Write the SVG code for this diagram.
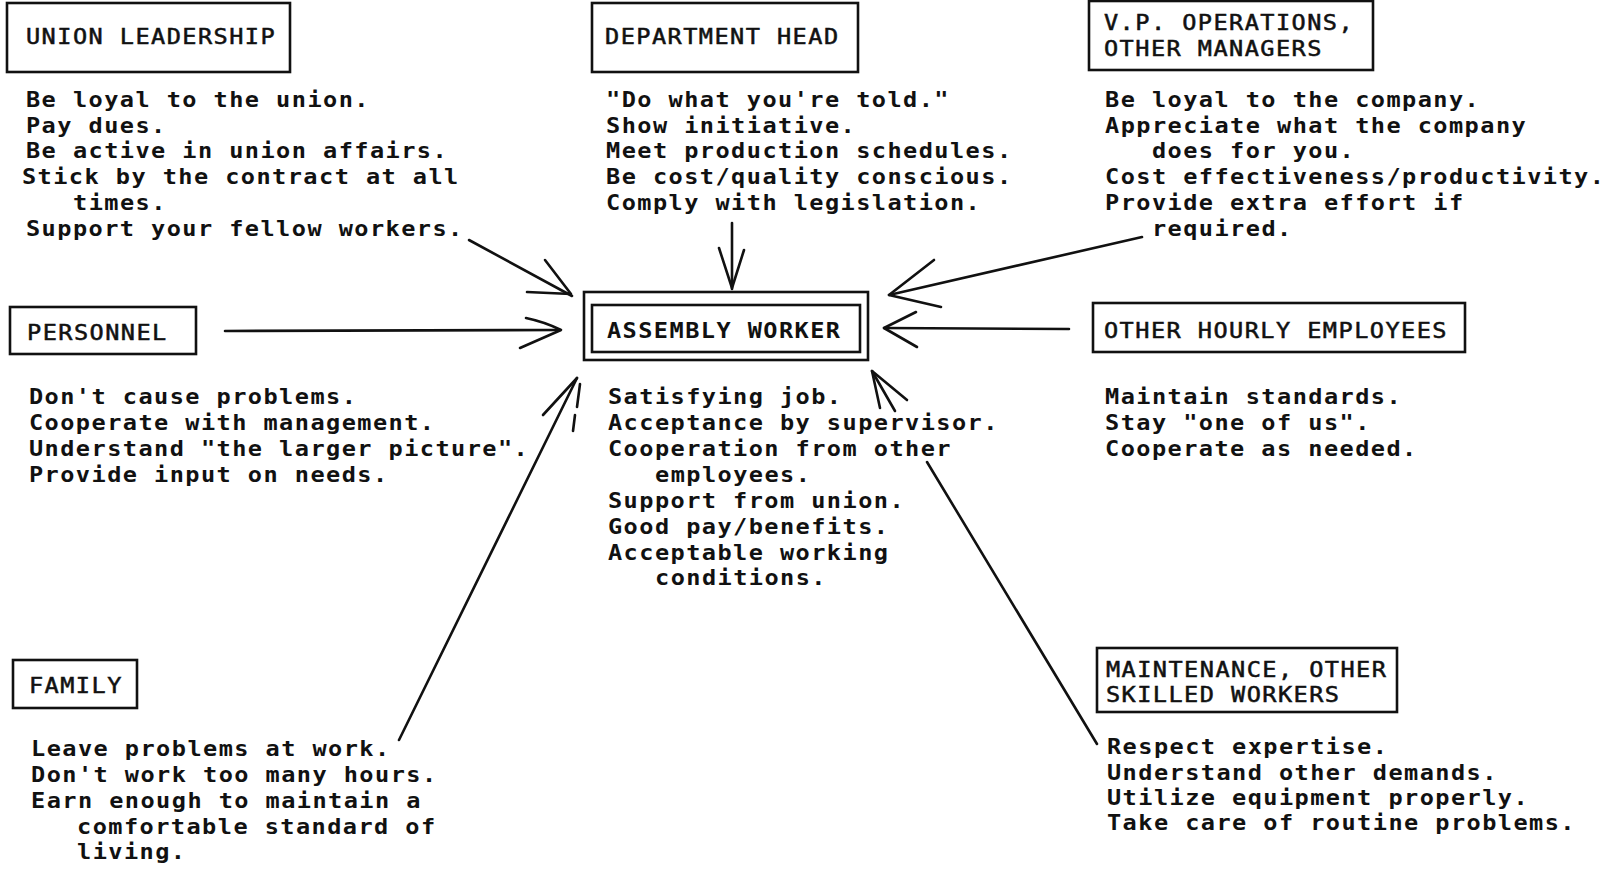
<svg xmlns="http://www.w3.org/2000/svg" width="1617" height="873" viewBox="0 0 1617 873">
  <style>
    .bg { fill: #ffffff; }
    .box { fill: none; stroke: #111; stroke-width: 2.6; }
    .conn { fill: none; stroke: #111; stroke-width: 2.6; stroke-linecap: round; stroke-linejoin: round; }
    text { font-family: "DejaVu Sans Mono", "Liberation Mono", monospace; font-size: 20.5px; letter-spacing: 1.26px; fill: #111; }
    .hd { font-weight: normal; stroke: #111; stroke-width: 0.5; }
    .hdb { font-weight: bold; }
    .body { font-weight: bold; }
  </style>
  <rect class="bg" x="0" y="0" width="1617" height="873"/>

  <!-- text runs are widened horizontally by 1.15 to get the broad printer glyphs; x values are in that stretched space -->
  <g id="union-leadership">
    <rect class="box" x="7" y="3" width="283" height="69"/>
    <g transform="scale(1.15 1)">
      <text class="hd" x="22.6" y="44">UNION LEADERSHIP</text>
      <text class="body">
        <tspan x="22.6" y="107">Be loyal to the union.</tspan>
        <tspan x="22.6" y="133">Pay dues.</tspan>
        <tspan x="22.6" y="158">Be active in union affairs.</tspan>
        <tspan x="19.1" y="184">Stick by the contract at all</tspan>
        <tspan x="63.5" y="210">times.</tspan>
        <tspan x="22.6" y="236">Support your fellow workers.</tspan>
      </text>
    </g>
  </g>

  <g id="department-head">
    <rect class="box" x="592" y="3" width="266" height="69"/>
    <g transform="scale(1.15 1)">
      <text class="hd" x="526.1" y="44">DEPARTMENT HEAD</text>
      <text class="body">
        <tspan x="527" y="107">"Do what you're told."</tspan>
        <tspan x="527" y="133">Show initiative.</tspan>
        <tspan x="527" y="158">Meet production schedules.</tspan>
        <tspan x="527" y="184">Be cost/quality conscious.</tspan>
        <tspan x="527" y="210">Comply with legislation.</tspan>
      </text>
    </g>
  </g>

  <g id="vp-operations">
    <rect class="box" x="1089" y="1" width="284" height="69"/>
    <g transform="scale(1.15 1)">
      <text class="hd" x="960" y="30">V.P. OPERATIONS,</text>
      <text class="hd" x="960" y="56">OTHER MANAGERS</text>
      <text class="body">
        <tspan x="960.9" y="107">Be loyal to the company.</tspan>
        <tspan x="960.9" y="133">Appreciate what the company</tspan>
        <tspan x="1001.7" y="158">does for you.</tspan>
        <tspan x="960.9" y="184">Cost effectiveness/productivity.</tspan>
        <tspan x="960.9" y="210">Provide extra effort if</tspan>
        <tspan x="1001.7" y="236">required.</tspan>
      </text>
    </g>
  </g>

  <g id="personnel">
    <rect class="box" x="10" y="307" width="186" height="47"/>
    <g transform="scale(1.15 1)">
      <text class="hd" x="23.5" y="340">PERSONNEL</text>
      <text class="body">
        <tspan x="25.2" y="404">Don't cause problems.</tspan>
        <tspan x="25.2" y="430">Cooperate with management.</tspan>
        <tspan x="25.2" y="456">Understand "the larger picture".</tspan>
        <tspan x="25.2" y="482">Provide input on needs.</tspan>
      </text>
    </g>
  </g>

  <g id="assembly-worker">
    <rect class="box" x="584" y="292" width="284" height="68"/>
    <rect class="box" x="592" y="305" width="268" height="47"/>
    <g transform="scale(1.15 1)">
      <text class="hdb" x="527.8" y="338">ASSEMBLY WORKER</text>
      <text class="body">
        <tspan x="528.7" y="404">Satisfying job.</tspan>
        <tspan x="528.7" y="430">Acceptance by supervisor.</tspan>
        <tspan x="528.7" y="456">Cooperation from other</tspan>
        <tspan x="569.6" y="482">employees.</tspan>
        <tspan x="528.7" y="508">Support from union.</tspan>
        <tspan x="528.7" y="534">Good pay/benefits.</tspan>
        <tspan x="528.7" y="560">Acceptable working</tspan>
        <tspan x="569.6" y="585">conditions.</tspan>
      </text>
    </g>
  </g>

  <g id="other-hourly-employees">
    <rect class="box" x="1093" y="303" width="372" height="49"/>
    <g transform="scale(1.15 1)">
      <text class="hd" x="960" y="338">OTHER HOURLY EMPLOYEES</text>
      <text class="body">
        <tspan x="960.9" y="404">Maintain standards.</tspan>
        <tspan x="960.9" y="430">Stay "one of us".</tspan>
        <tspan x="960.9" y="456">Cooperate as needed.</tspan>
      </text>
    </g>
  </g>

  <g id="family">
    <rect class="box" x="13" y="660" width="124" height="48"/>
    <g transform="scale(1.15 1)">
      <text class="hd" x="25.2" y="693">FAMILY</text>
      <text class="body">
        <tspan x="27" y="756">Leave problems at work.</tspan>
        <tspan x="27" y="782">Don't work too many hours.</tspan>
        <tspan x="27" y="808">Earn enough to maintain a</tspan>
        <tspan x="67" y="834">comfortable standard of</tspan>
        <tspan x="67" y="859">living.</tspan>
      </text>
    </g>
  </g>

  <g id="maintenance-skilled-workers">
    <rect class="box" x="1097" y="648" width="300" height="64"/>
    <g transform="scale(1.15 1)">
      <text class="hd" x="961.7" y="677">MAINTENANCE, OTHER</text>
      <text class="hd" x="961.7" y="702">SKILLED WORKERS</text>
      <text class="body">
        <tspan x="962.6" y="754">Respect expertise.</tspan>
        <tspan x="962.6" y="780">Understand other demands.</tspan>
        <tspan x="962.6" y="805">Utilize equipment properly.</tspan>
        <tspan x="962.6" y="830">Take care of routine problems.</tspan>
      </text>
    </g>
  </g>

  <!-- hand-drawn arrows pointing into the assembly worker box -->
  <g id="connectors">
    <!-- union leadership -->
    <path class="conn" d="M469 240 L572 296"/>
    <path class="conn" d="M545 260 L571 294 L527 292"/>
    <!-- personnel -->
    <path class="conn" d="M225 331 L560 330"/>
    <path class="conn" d="M526 318 Q545 322 561 330 L520 348"/>
    <!-- department head -->
    <path class="conn" d="M732 223 L732 289"/>
    <path class="conn" d="M719 248 L732 288 L744 250"/>
    <!-- V.P. operations -->
    <path class="conn" d="M1142 237 L889 295"/>
    <path class="conn" d="M934 260 L889 295 L941 307"/>
    <!-- other hourly employees -->
    <path class="conn" d="M1069 329 L884 328"/>
    <path class="conn" d="M916 312 L884 328 L917 347"/>
    <!-- maintenance, other skilled workers (shaft broken around the text) -->
    <path class="conn" d="M872 371 L895 411"/>
    <path class="conn" d="M927 462 L1097 744"/>
    <path class="conn" d="M880 408 L872 371 L907 400"/>
    <!-- family -->
    <path class="conn" d="M399 740 L577 378"/>
    <path class="conn" d="M543 415 L577 378"/>
    <path class="conn" d="M580 384 L577 407 M575 415 L573 431"/>
  </g>
</svg>
